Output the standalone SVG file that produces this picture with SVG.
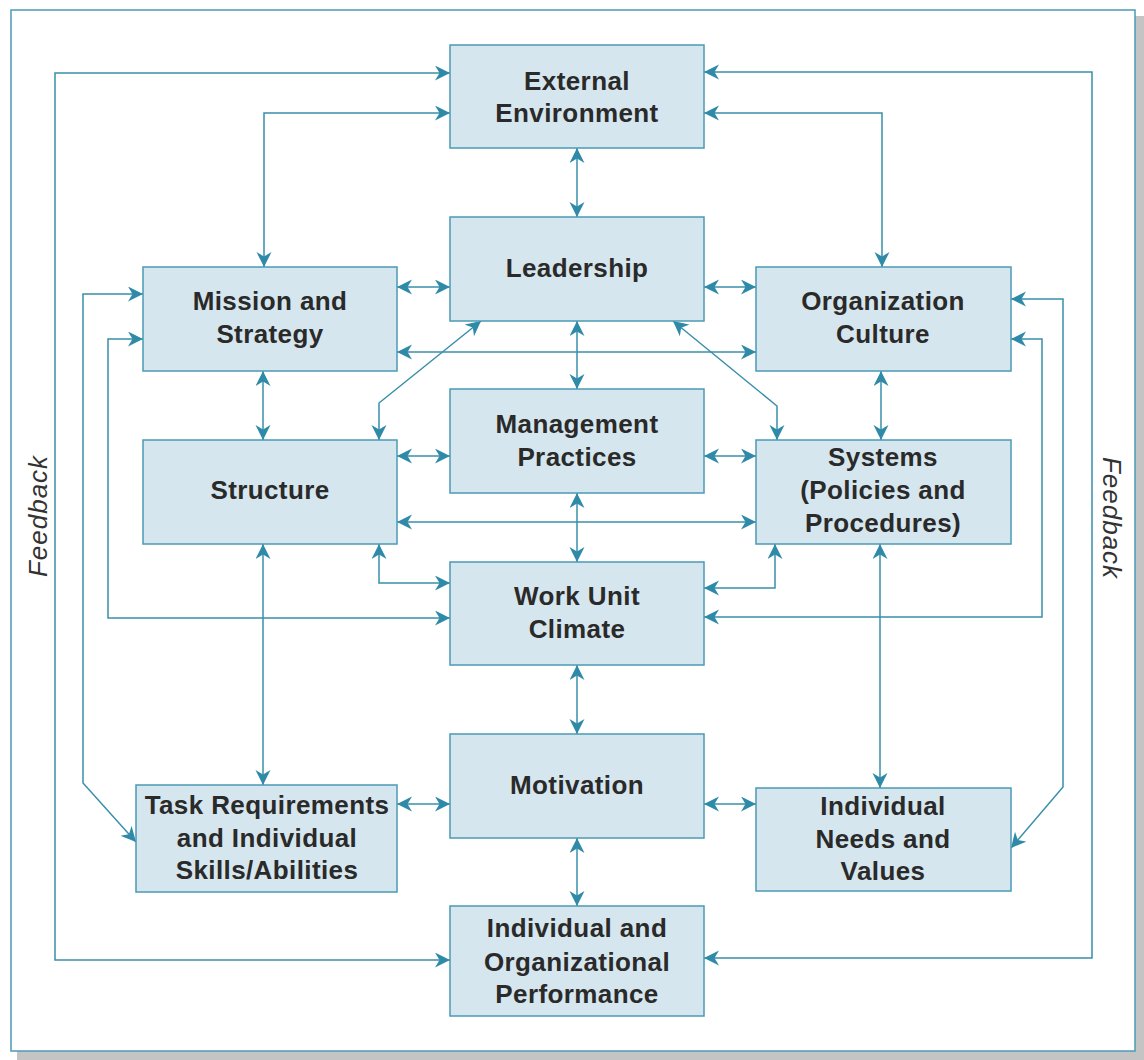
<svg xmlns="http://www.w3.org/2000/svg" width="1144" height="1060" viewBox="0 0 1144 1060">
<defs>
<style>
.box{fill:#d6e6ee;stroke:#4b9bb5;stroke-width:1.5}
.lbl{font-family:"Liberation Sans",Arial,sans-serif;font-weight:bold;font-size:26px;fill:#2a2a2a;text-anchor:middle;letter-spacing:0.4px}
.c{fill:none;stroke:#3a8fab;stroke-width:1.5;marker-start:url(#a);marker-end:url(#a)}
.fb{font-family:"Liberation Sans",Arial,sans-serif;font-style:italic;font-size:26px;fill:#333;text-anchor:middle;letter-spacing:1px}
</style>
<marker id="a" markerUnits="userSpaceOnUse" markerWidth="17" markerHeight="16" refX="15" refY="7.5" orient="auto-start-reverse">
<path d="M0,0 L15,7.5 L0,15 L4.5,7.5 z" fill="#2f8aa8"/>
</marker>
</defs>
<rect x="0" y="0" width="1144" height="1060" fill="#ffffff"/>
<rect x="17" y="16" width="1127" height="1044" fill="#c4c4c4"/>
<rect x="11" y="10" width="1124" height="1041" fill="#ffffff" stroke="#4b9bb5" stroke-width="1.5"/>

<g id="connectors">
<path class="c" d="M577,148 V217"/>
<path class="c" d="M577,321 V389"/>
<path class="c" d="M577,493 V562"/>
<path class="c" d="M577,665 V734"/>
<path class="c" d="M577,838 V906"/>
<path class="c" d="M397,287 H450"/>
<path class="c" d="M704,287 H756"/>
<path class="c" d="M397,352 H756"/>
<path class="c" d="M397,456 H450"/>
<path class="c" d="M704,456 H756"/>
<path class="c" d="M397,522 H756"/>
<path class="c" d="M263,371 V440"/>
<path class="c" d="M881,371 V440"/>
<path class="c" d="M379,440 V403 L481,321"/>
<path class="c" d="M777,440 V406 L673,321"/>
<path class="c" d="M379,544 V583 H450"/>
<path class="c" d="M775,544 V588 H704"/>
<path class="c" d="M143,339 H108 V618 H450"/>
<path class="c" d="M1011,339 H1042 V617 H704"/>
<path class="c" d="M143,294 H83 V783 L136,842"/>
<path class="c" d="M1011,299 H1063 V787 L1011,848"/>
<path class="c" d="M264,267 V113 H450"/>
<path class="c" d="M704,113 H882 V267"/>
<path class="c" d="M450,73 H55 V960 H450"/>
<path class="c" d="M704,72 H1092 V958 H704"/>
<path class="c" d="M263,544 V785"/>
<path class="c" d="M880,544 V788"/>
<path class="c" d="M397,804 H450"/>
<path class="c" d="M704,804 H756"/>
</g>

<g id="external">
<rect class="box" x="450" y="45" width="254" height="103"/>
<text class="lbl" x="577" y="90">External</text>
<text class="lbl" x="577" y="122">Environment</text>
</g>
<g id="leadership">
<rect class="box" x="450" y="217" width="254" height="104"/>
<text class="lbl" x="577" y="277">Leadership</text>
</g>
<g id="mission">
<rect class="box" x="143" y="267" width="254" height="104"/>
<text class="lbl" x="270" y="310">Mission and</text>
<text class="lbl" x="270" y="343">Strategy</text>
</g>
<g id="culture">
<rect class="box" x="756" y="267" width="255" height="104"/>
<text class="lbl" x="883" y="310">Organization</text>
<text class="lbl" x="883" y="343">Culture</text>
</g>
<g id="management">
<rect class="box" x="450" y="389" width="254" height="104"/>
<text class="lbl" x="577" y="433">Management</text>
<text class="lbl" x="577" y="466">Practices</text>
</g>
<g id="structure">
<rect class="box" x="143" y="440" width="254" height="104"/>
<text class="lbl" x="270" y="499">Structure</text>
</g>
<g id="systems">
<rect class="box" x="756" y="440" width="255" height="104"/>
<text class="lbl" x="883" y="466">Systems</text>
<text class="lbl" x="883" y="499">(Policies and</text>
<text class="lbl" x="883" y="532">Procedures)</text>
</g>
<g id="workunit">
<rect class="box" x="450" y="562" width="254" height="103"/>
<text class="lbl" x="577" y="605">Work Unit</text>
<text class="lbl" x="577" y="638">Climate</text>
</g>
<g id="motivation">
<rect class="box" x="450" y="734" width="254" height="104"/>
<text class="lbl" x="577" y="794">Motivation</text>
</g>
<g id="task">
<rect class="box" x="136" y="785" width="261" height="107"/>
<text class="lbl" x="267" y="814">Task Requirements</text>
<text class="lbl" x="267" y="847">and Individual</text>
<text class="lbl" x="267" y="879">Skills/Abilities</text>
</g>
<g id="needs">
<rect class="box" x="756" y="788" width="255" height="103"/>
<text class="lbl" x="883" y="815">Individual</text>
<text class="lbl" x="883" y="848">Needs and</text>
<text class="lbl" x="883" y="880">Values</text>
</g>
<g id="performance">
<rect class="box" x="450" y="906" width="254" height="110"/>
<text class="lbl" x="577" y="937">Individual and</text>
<text class="lbl" x="577" y="971">Organizational</text>
<text class="lbl" x="577" y="1003">Performance</text>
</g>
<g id="feedback-labels">
<text class="fb" transform="translate(47,516) rotate(-90)">Feedback</text>
<text class="fb" transform="translate(1103,518) rotate(90)">Feedback</text>
</g>
</svg>
